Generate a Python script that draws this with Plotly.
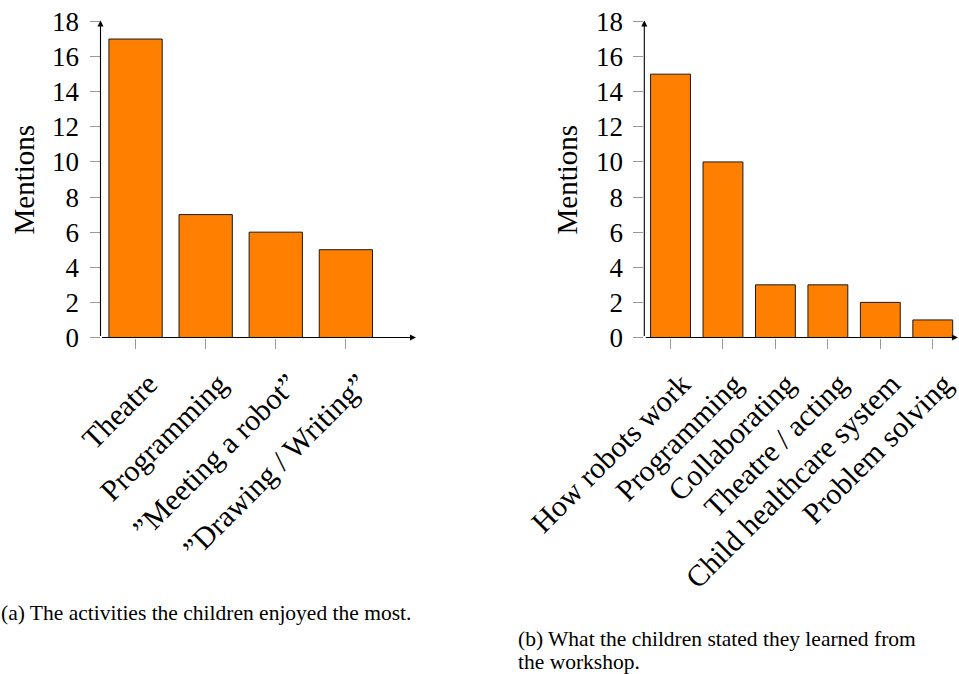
import plotly.graph_objects as go

# ---- data ----
cats_a = ["Theatre", "Programming", "\u201dMeeting a robot\u201d", "\u201dDrawing / Writing\u201d"]
vals_a = [17, 7, 6, 5]
cats_b = ["How robots work", "Programming", "Collaborating", "Theatre / acting",
          "Child healthcare system", "Problem solving"]
vals_b = [15, 10, 3, 3, 2, 1]
y_ticks = [0, 2, 4, 6, 8, 10, 12, 14, 16, 18]
y_title = "Mentions"
caption_a = "(a) The activities the children enjoyed the most."
caption_b1 = "(b) What the children stated they learned from"
caption_b2 = "the workshop."

FONT = "Liberation Serif"
ORANGE = "#FF8000"
W, H = 959, 674

fig = go.Figure()
fig.add_trace(go.Bar(x=cats_a, y=vals_a, xaxis="x", yaxis="y", width=0.76,
                     marker=dict(color=ORANGE, line=dict(color="#1a1a1a", width=1)),
                     showlegend=False, hoverinfo="x+y"))
fig.add_trace(go.Bar(x=cats_b, y=vals_b, xaxis="x2", yaxis="y2", width=0.76,
                     marker=dict(color=ORANGE, line=dict(color="#1a1a1a", width=1)),
                     showlegend=False, hoverinfo="x+y"))

y_bot = (H - 337.5) / H
y_top_val = 18.1
y_top = (H - (337.5 - y_top_val * 17.556)) / H

xcommon = dict(type="category", showgrid=False, zeroline=False, showline=False,
               ticks="outside", ticklen=10, tickcolor="#9a9a9a", tickwidth=1,
               tickangle=-45, tickfont=dict(family=FONT, size=30, color="black"),
               automargin=False, ticklabelstandoff=6, ticklabelshift=13)
ycommon = dict(range=[0, y_top_val], domain=[y_bot, y_top], tickvals=y_ticks,
               showgrid=False, zeroline=False, showline=False,
               ticks="outside", ticklen=10, tickcolor="#9a9a9a", tickwidth=1,
               tickfont=dict(family=FONT, size=27, color="black"),
               automargin=False, ticklabelstandoff=5)

fig.update_layout(
    width=W, height=H, margin=dict(l=0, r=0, t=0, b=0),
    paper_bgcolor="white", plot_bgcolor="white",
    xaxis=dict(xcommon, domain=[100.5 / W, 416 / W], range=[-0.5, 4.0], anchor="y"),
    yaxis=dict(ycommon, anchor="x"),
    xaxis2=dict(xcommon, domain=[644.3 / W, 1.0], range=[-0.5, 5.5], anchor="y2",
                ticklabelshift=11),
    yaxis2=dict(ycommon, anchor="x2"),
    bargap=0.24,
)

arrow = dict(showarrow=True, text="", arrowhead=2, arrowsize=1.1, arrowwidth=1.1,
             arrowcolor="black", standoff=0, startstandoff=0)
# axis lines with arrows
fig.add_annotation(dict(arrow, x=4.0, y=0, ax=-0.5, ay=0, xref="x", yref="y", axref="x", ayref="y"))
fig.add_annotation(dict(arrow, x=-0.5, y=18.06, ax=-0.5, ay=0, xref="x", yref="y", axref="x", ayref="y"))
fig.add_annotation(dict(arrow, x=5.48, y=0, ax=-0.5, ay=0, xref="x2", yref="y2", axref="x2", ayref="y2"))
fig.add_annotation(dict(arrow, x=-0.5, y=18.06, ax=-0.5, ay=0, xref="x2", yref="y2", axref="x2", ayref="y2"))

# y axis titles
for xp in (24, 567):
    fig.add_annotation(text=y_title, x=xp / W, y=(H - 179.5) / H, xref="paper", yref="paper",
                       showarrow=False, textangle=-90, xanchor="center", yanchor="middle",
                       font=dict(family=FONT, size=29, color="black"))

# captions
cap_font = dict(family=FONT, size=21.5, color="black")
fig.add_annotation(text=caption_a, x=0, y=(H - 613) / H, xref="paper", yref="paper",
                   showarrow=False, xanchor="left", yanchor="middle", align="left",
                   font=cap_font, borderpad=0)
fig.add_annotation(text=caption_b1, x=517 / W, y=(H - 639) / H, xref="paper", yref="paper",
                   showarrow=False, xanchor="left", yanchor="middle", align="left",
                   font=cap_font, borderpad=0)
fig.add_annotation(text=caption_b2, x=517 / W, y=(H - 662) / H, xref="paper", yref="paper",
                   showarrow=False, xanchor="left", yanchor="middle", align="left",
                   font=cap_font, borderpad=0)

fig.write_html("out.html", config={"displayModeBar": False},
               post_script="document.body.style.margin='0';")
